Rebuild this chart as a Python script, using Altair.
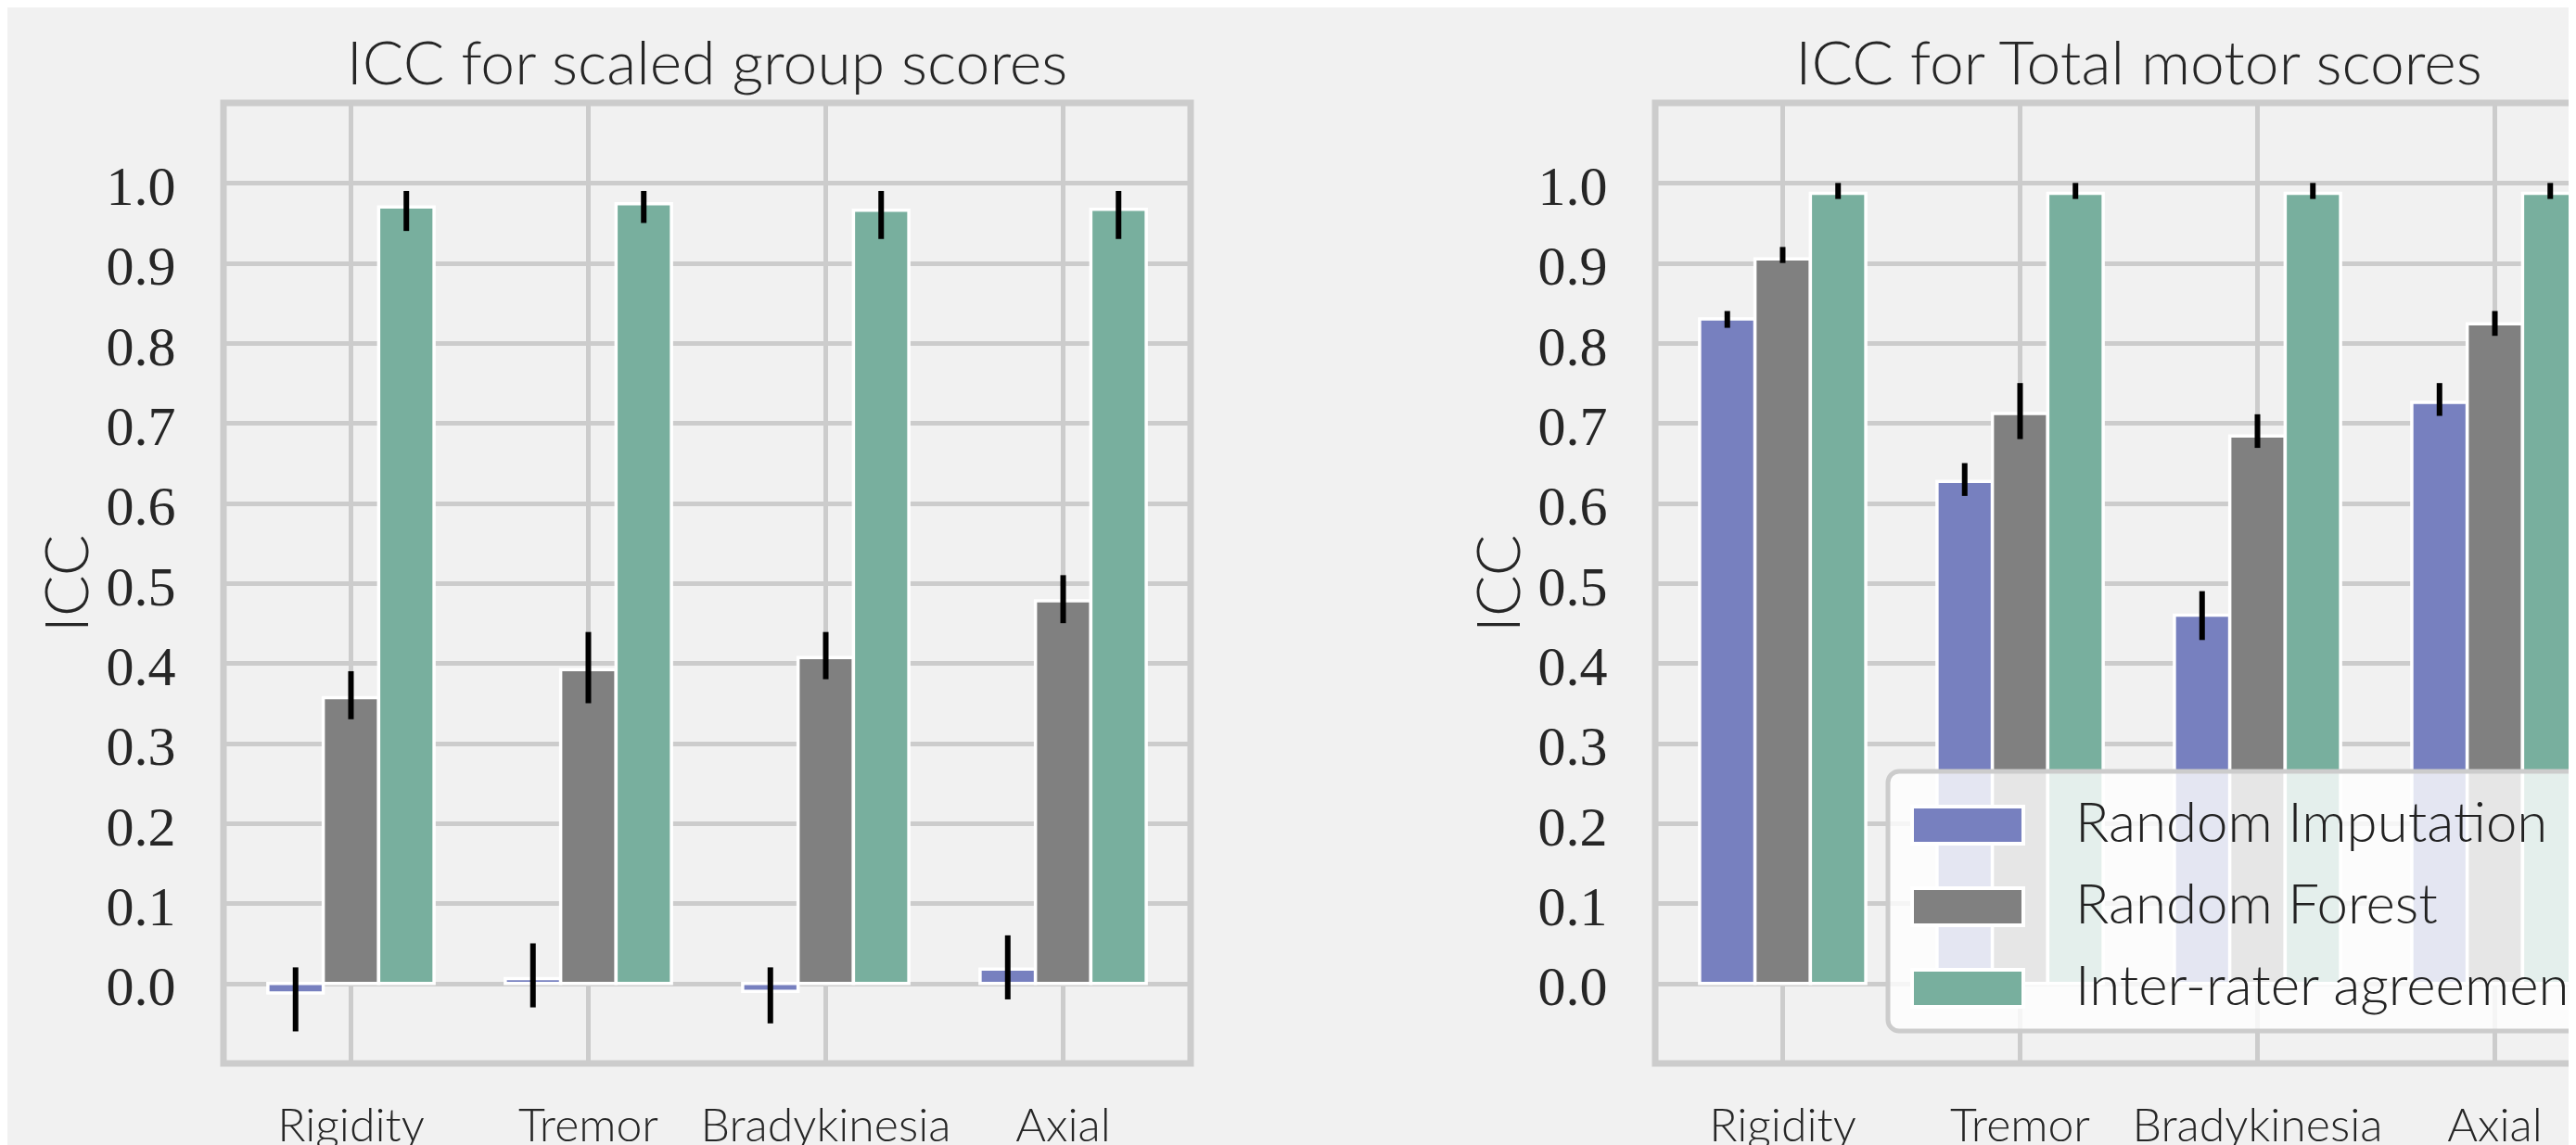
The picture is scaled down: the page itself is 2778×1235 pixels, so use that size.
import altair as alt
import pandas as pd

categories = ["Rigidity", "Tremor", "Bradykinesia", "Axial"]
methods = ["Random Imputation", "Random Forest", "Inter-rater agreement"]
colors = ["#7780bf", "#808080", "#78af9e"]

# ICC for scaled group scores
scaled_ri = [-0.012, 0.006, -0.010, 0.018]
scaled_ri_lo = [-0.060, -0.030, -0.050, -0.020]
scaled_ri_hi = [0.020, 0.050, 0.020, 0.060]
scaled_rf = [0.357, 0.392, 0.407, 0.478]
scaled_rf_lo = [0.330, 0.350, 0.380, 0.450]
scaled_rf_hi = [0.390, 0.439, 0.439, 0.510]
scaled_ir = [0.970, 0.974, 0.966, 0.967]
scaled_ir_lo = [0.940, 0.950, 0.930, 0.930]
scaled_ir_hi = [0.990, 0.990, 0.990, 0.990]

# ICC for Total motor scores
total_ri = [0.830, 0.627, 0.460, 0.726]
total_ri_lo = [0.819, 0.609, 0.429, 0.709]
total_ri_hi = [0.840, 0.650, 0.490, 0.750]
total_rf = [0.905, 0.712, 0.684, 0.824]
total_rf_lo = [0.900, 0.680, 0.669, 0.809]
total_rf_hi = [0.920, 0.750, 0.711, 0.840]
total_ir = [0.987, 0.987, 0.987, 0.987]
total_ir_lo = [0.980, 0.980, 0.980, 0.980]
total_ir_hi = [1.000, 1.000, 1.000, 1.000]

y_ticks = [0.0, 0.1, 0.2, 0.3, 0.4, 0.5, 0.6, 0.7, 0.8, 0.9, 1.0]


def build_df(series):
    rows = []
    for m, (vals, lo, hi) in zip(methods, series):
        for c, v, l, h in zip(categories, vals, lo, hi):
            rows.append({"category": c, "method": m, "value": v, "lo": l, "hi": h})
    return pd.DataFrame(rows)


df_scaled = build_df([
    (scaled_ri, scaled_ri_lo, scaled_ri_hi),
    (scaled_rf, scaled_rf_lo, scaled_rf_hi),
    (scaled_ir, scaled_ir_lo, scaled_ir_hi),
])
df_total = build_df([
    (total_ri, total_ri_lo, total_ri_hi),
    (total_rf, total_rf_lo, total_rf_hi),
    (total_ir, total_ir_lo, total_ir_hi),
])

W, H = 1043, 1036


def panel(df, title, show_legend):
    x = alt.X(
        "category:N",
        sort=categories,
        scale=alt.Scale(domain=categories, paddingInner=0.3, paddingOuter=0.187),
        axis=alt.Axis(
            title=None, labelAngle=0, domain=False, ticks=False, grid=True,
            bandPosition=0.5, labelFont="Lato", labelFontSize=50,
            labelFontWeight=300, labelPadding=43, labelColor="#262626",
            labelLimit=500, gridColor="#cccccc", gridWidth=5,
        ),
    )
    xo = alt.XOffset(
        "method:N", sort=methods,
        scale=alt.Scale(domain=methods, paddingInner=0, paddingOuter=0),
    )
    yscale = alt.Scale(domain=[-0.1, 1.1], nice=False)
    if show_legend:
        legend = alt.Legend(
            title=None, orient="none", legendX=251, legendY=721,
            symbolType="M-0.8,-0.5h3v1h-3z", symbolSize=6400,
            symbolStrokeColor="white", symbolStrokeWidth=4, symbolOpacity=1,
            labelFont="Lato", labelFontSize=60, labelFontWeight=300,
            labelColor="#222222", labelOffset=102, rowPadding=16,
            fillColor="rgba(255,255,255,0.8)", strokeColor="#cccccc",
            cornerRadius=12, padding=16, labelLimit=1000,
        )
    else:
        legend = None
    bars = alt.Chart(df).mark_bar(stroke="white", strokeWidth=3.5).encode(
        x=x,
        xOffset=xo,
        y=alt.Y(
            "value:Q", scale=yscale,
            axis=alt.Axis(
                title="ICC", values=y_ticks, format=".1f", domain=False,
                ticks=False, grid=True, gridColor="#cccccc", gridWidth=5,
                labelFont="Liberation Serif", labelFontSize=60,
                labelColor="#262626", labelPadding=52, labelOffset=5,
                titleFont="Lato", titleFontSize=66, titleFontWeight=300,
                titleColor="#262626", titlePadding=6,
            ),
        ),
        y2=alt.datum(0),
        color=alt.Color("method:N", sort=methods,
                        scale=alt.Scale(domain=methods, range=colors),
                        legend=legend),
    )
    errs = alt.Chart(df).mark_rule(color="black", strokeWidth=6).encode(
        x=alt.X("category:N", sort=categories),
        xOffset=alt.XOffset("method:N", sort=methods),
        y=alt.Y("lo:Q"),
        y2="hi:Q",
    )
    return alt.layer(bars, errs).properties(
        width=W, height=H,
        title=alt.TitleParams(
            title, font="Lato", fontSize=66, fontWeight=300, color="#262626",
            anchor="middle", offset=6,
        ),
    )


left = panel(df_scaled, "ICC for scaled group scores", False)
right = panel(df_total, "ICC for Total motor scores", True)

PAD_L, PAD_T = 233, 103
chart = alt.hconcat(left, right, spacing=293).resolve_legend(
    color="independent"
).properties(
    background="#f1f1f1",
    autosize=alt.AutoSizeParams(type="none"),
    padding={"left": PAD_L, "top": PAD_T,
             "right": 2762 - PAD_L, "bottom": 1219 - PAD_T},
).configure_view(
    stroke="#cccccc", strokeWidth=7
).configure_legend(
    strokeWidth=5
)

chart.save("out.html", embed_options={"renderer": "svg", "actions": False})
